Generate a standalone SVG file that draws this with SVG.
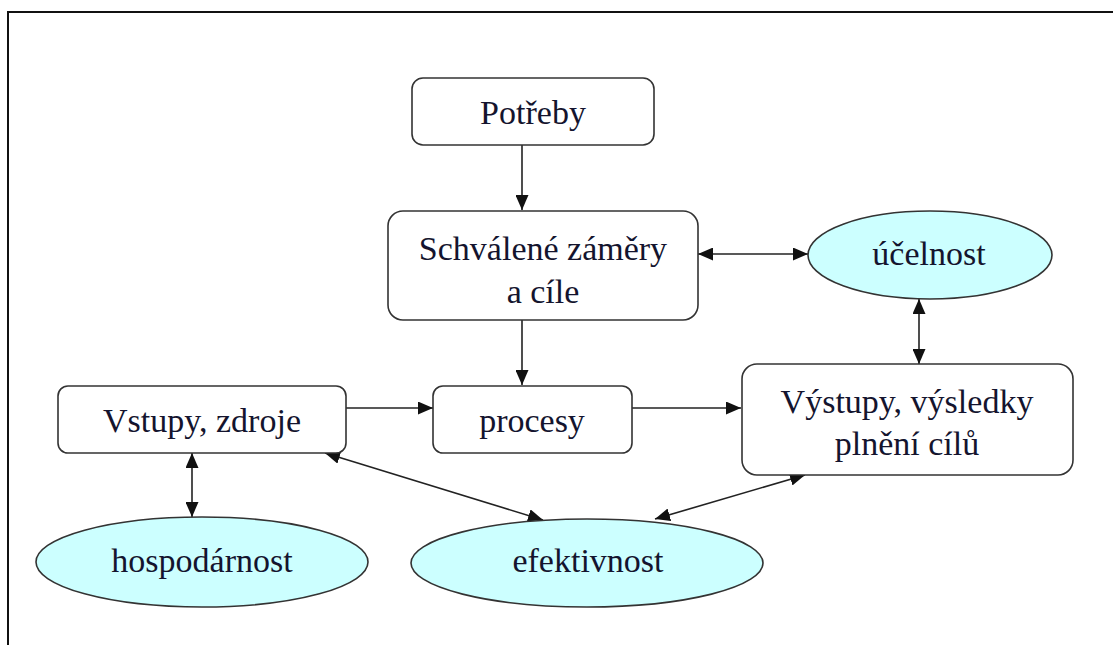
<svg xmlns="http://www.w3.org/2000/svg" width="1113" height="645" viewBox="0 0 1113 645">
<style>
.box{fill:#fff;stroke:#333;stroke-width:1.6}
.ell{fill:#ccffff;stroke:#333;stroke-width:1.6}
.t{font-family:"Liberation Serif","Times New Roman",serif;font-size:34px;fill:#14142e;text-anchor:middle}
.c{stroke:#222;stroke-width:1.6;fill:none}
</style>
<defs>
<marker id="ah" markerWidth="15" markerHeight="13" refX="15" refY="6.5" orient="auto-start-reverse" markerUnits="userSpaceOnUse">
<path d="M0,0 L15,6.5 L0,13 z" fill="#111"/>
</marker>
</defs>
<rect x="0" y="0" width="1113" height="645" fill="#fff"/>
<rect x="8" y="12" width="1120" height="660" fill="none" stroke="#111" stroke-width="2"/>
<g id="connectors">
<line class="c" x1="522" y1="145" x2="522" y2="210" marker-end="url(#ah)"/>
<line class="c" x1="522" y1="320" x2="522" y2="385" marker-end="url(#ah)"/>
<line class="c" x1="698" y1="254" x2="808" y2="254" marker-start="url(#ah)" marker-end="url(#ah)"/>
<line class="c" x1="919" y1="299" x2="919" y2="364" marker-start="url(#ah)" marker-end="url(#ah)"/>
<line class="c" x1="346" y1="408" x2="433" y2="408" marker-end="url(#ah)"/>
<line class="c" x1="632" y1="408" x2="741" y2="408" marker-end="url(#ah)"/>
<line class="c" x1="192" y1="453" x2="192" y2="517" marker-start="url(#ah)" marker-end="url(#ah)"/>
<line class="c" x1="325" y1="453" x2="543" y2="520" marker-start="url(#ah)" marker-end="url(#ah)"/>
<line class="c" x1="805" y1="475" x2="655" y2="519" marker-start="url(#ah)" marker-end="url(#ah)"/>
</g>
<g id="potreby">
<rect class="box" x="412" y="78" width="242" height="67" rx="11"/>
<text class="t" x="533" y="124">Potřeby</text>
</g>
<g id="zamery">
<rect class="box" x="388" y="211" width="310" height="109" rx="15"/>
<text class="t" x="543" y="260">Schválené záměry</text>
<text class="t" x="543" y="303">a cíle</text>
</g>
<g id="ucelnost">
<ellipse class="ell" cx="930" cy="255" rx="122" ry="44"/>
<text class="t" x="929" y="265">účelnost</text>
</g>
<g id="vstupy">
<rect class="box" x="58" y="386" width="288" height="67" rx="10"/>
<text class="t" x="202" y="432">Vstupy, zdroje</text>
</g>
<g id="procesy">
<rect class="box" x="433" y="386" width="199" height="67" rx="10"/>
<text class="t" x="532" y="432">procesy</text>
</g>
<g id="vystupy">
<rect class="box" x="742" y="364" width="331" height="111" rx="15"/>
<text class="t" x="907" y="413">Výstupy, výsledky</text>
<text class="t" x="907" y="455">plnění cílů</text>
</g>
<g id="hospodarnost">
<ellipse class="ell" cx="202" cy="562" rx="166" ry="45"/>
<text class="t" x="202" y="572">hospodárnost</text>
</g>
<g id="efektivnost">
<ellipse class="ell" cx="587" cy="563" rx="176" ry="44"/>
<text class="t" x="588" y="572">efektivnost</text>
</g>
</svg>
